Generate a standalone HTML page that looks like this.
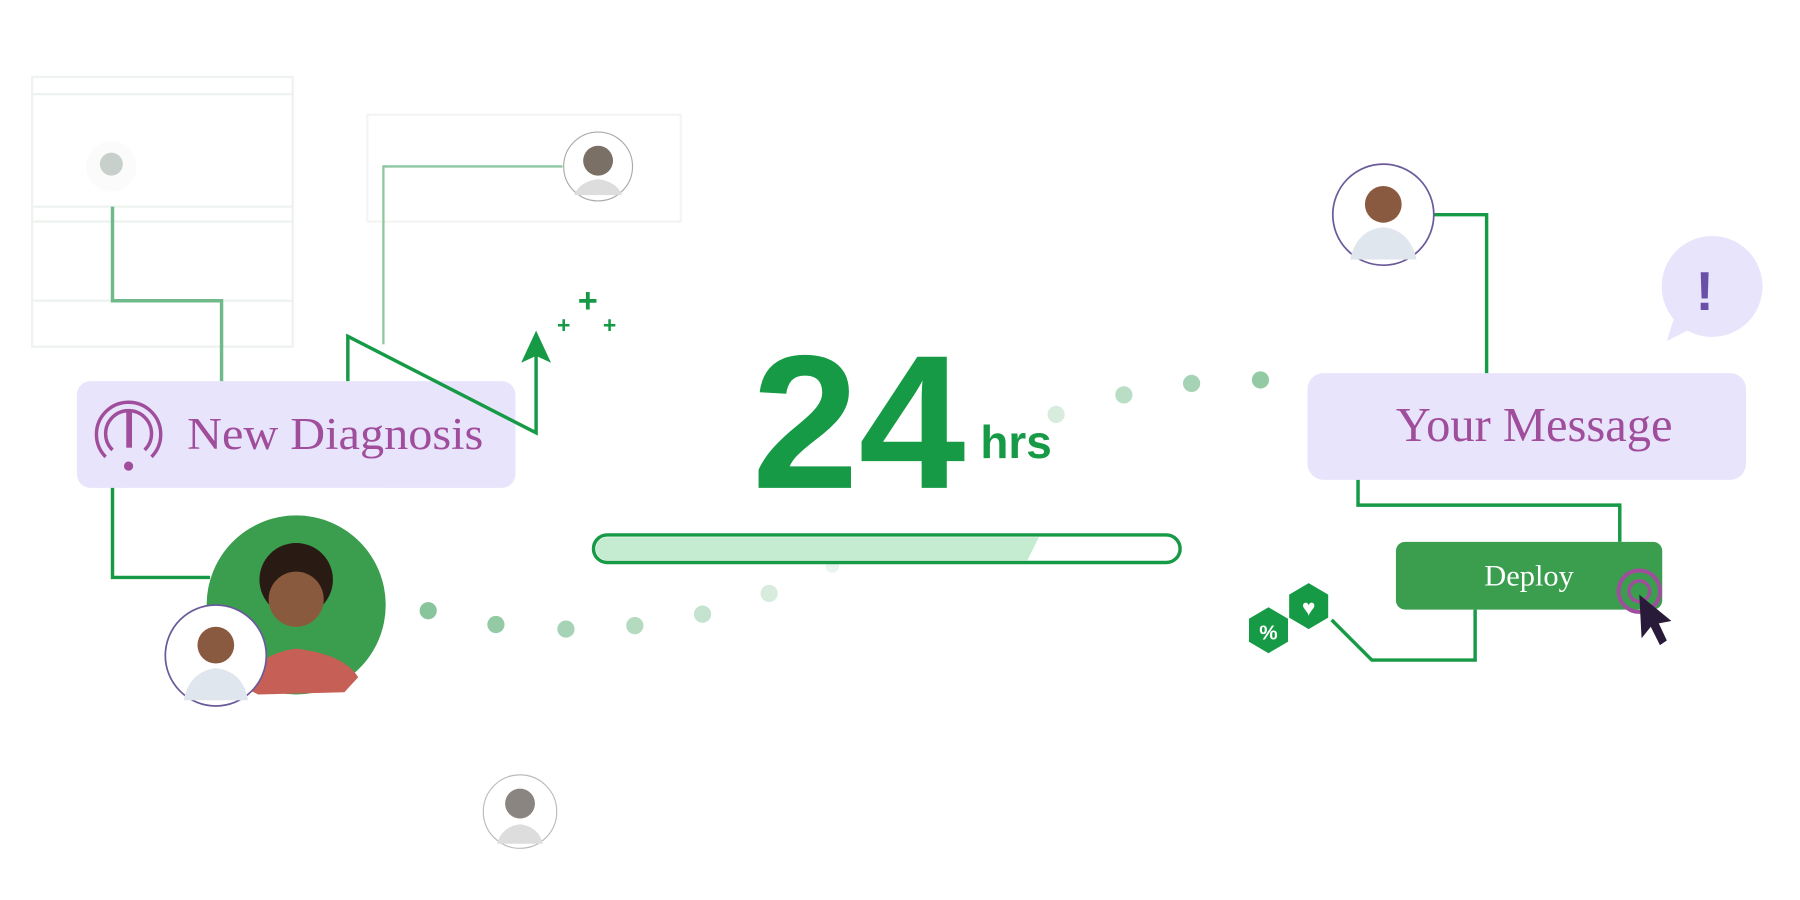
<!DOCTYPE html>
<html><head><meta charset="utf-8"><style>html,body{margin:0;padding:0;background:#fff}svg{display:block}</style></head>
<body>
<svg width="1800" height="900" viewBox="0 0 1568 784" xmlns="http://www.w3.org/2000/svg">
<!-- faint panels -->
<g fill="none" stroke="#eef3ef" stroke-width="2">
<rect x="28" y="67" width="227" height="235"/>
<line x1="28" y1="82" x2="255" y2="82"/><line x1="28" y1="180" x2="255" y2="180"/>
<line x1="28" y1="193" x2="255" y2="193"/><line x1="28" y1="262" x2="255" y2="262"/>
<rect x="320" y="100" width="273" height="93" stroke="#f3f5f3"/>
</g>
<!-- boxes first -->
<rect x="67" y="332" width="382" height="93" rx="12" fill="#e8e4fc"/>
<rect x="1139" y="325" width="382" height="93" rx="14" fill="#e8e4fc"/>
<!-- connectors -->
<g fill="none" stroke="#169a46" stroke-width="3">
<polyline points="98,425 98,503 183,503"/>
<polyline points="193,332 193,262 98,262 98,180" stroke="#6fb98a"/>
<polyline points="303,332 303,293 467,377 467,305"/>
<polyline points="334,300 334,145 490,145" stroke="#8cc79f" stroke-width="2"/>
<polyline points="1249,187 1295,187 1295,325"/>
<polyline points="1183,418 1183,440 1411,440 1411,472"/>
<polyline points="1285,531 1285,575 1195,575 1160,540"/>
</g>
<polygon points="467,288 454,316 467,310 480,316" fill="#169a46"/>
<g fill="#169a46" font-family="Liberation Sans, sans-serif" font-weight="bold">
<text x="512" y="272" font-size="30" text-anchor="middle">+</text>
<text x="491" y="290" font-size="20" text-anchor="middle">+</text>
<text x="531" y="290" font-size="20" text-anchor="middle">+</text>
</g>
<!-- New Diagnosis -->
<g fill="none" stroke="#a04e9b" stroke-width="3">
<path d="M98,392 A20,20 0 1 1 126,392"/>
<path d="M92,398 A28,28 0 1 1 132,398"/>
</g>
<rect x="110" y="358" width="5" height="32" fill="#a04e9b"/>
<circle cx="112" cy="406" r="4" fill="#a04e9b"/>
<text x="163" y="391" font-family="Liberation Serif, serif" font-size="40" fill="#a04e9b" textLength="258" lengthAdjust="spacingAndGlyphs">New Diagnosis</text>
<!-- woman & doctor -->
<circle cx="258" cy="527" r="78" fill="#3a9e4e"/>
<circle cx="258" cy="505" r="32" fill="#2a1a14"/>
<circle cx="258" cy="522" r="24" fill="#8a5a3e"/>
<path d="M215,600 Q220,570 258,565 Q300,570 312,590 L300,603 L225,605 Z" fill="#c65f55"/>
<circle cx="188" cy="571" r="44" fill="#fff" stroke="#6a5a9a" stroke-width="1.5"/>
<circle cx="188" cy="562" r="16" fill="#8a5a40"/>
<path d="M160,610 Q165,585 188,582 Q212,585 216,610 Z" fill="#dfe6ee"/>
<!-- other avatars -->
<circle cx="521" cy="145" r="30" fill="#fff" stroke="#aaa" stroke-width="1"/>
<circle cx="521" cy="140" r="13" fill="#7a7066"/>
<path d="M500,170 Q505,158 521,156 Q537,158 542,170 Z" fill="#ddd"/>
<circle cx="97" cy="145" r="22" fill="#fbfbfb"/>
<circle cx="97" cy="143" r="10" fill="#c8d0cc"/>
<circle cx="453" cy="707" r="32" fill="#fff" stroke="#bbb" stroke-width="1"/>
<circle cx="453" cy="700" r="13" fill="#8a8580"/>
<path d="M433,735 Q437,720 453,718 Q469,720 473,735 Z" fill="#ddd"/>
<circle cx="1205" cy="187" r="44" fill="#fff" stroke="#6a5a9a" stroke-width="1.5"/>
<circle cx="1205" cy="178" r="16" fill="#8a5a40"/>
<path d="M1176,226 Q1182,200 1205,198 Q1228,200 1234,226 Z" fill="#dfe6ee"/>
<!-- dots -->
<g fill="#3a9e5a">
<circle cx="373" cy="532" r="7.5" opacity=".6"/><circle cx="432" cy="544" r="7.5" opacity=".55"/>
<circle cx="493" cy="548" r="7.5" opacity=".45"/><circle cx="553" cy="545" r="7.5" opacity=".38"/>
<circle cx="612" cy="535" r="7.5" opacity=".3"/><circle cx="670" cy="517" r="7.5" opacity=".2"/>
<circle cx="725" cy="493" r="6" opacity=".1"/>
<circle cx="920" cy="361" r="7.5" opacity=".2"/><circle cx="979" cy="344" r="7.5" opacity=".35"/>
<circle cx="1038" cy="334" r="7.5" opacity=".45"/><circle cx="1098" cy="331" r="7.5" opacity=".55"/>
</g>
<!-- 24 hrs -->
<text x="655" y="425" font-family="Liberation Sans, sans-serif" font-weight="bold" font-size="166" fill="#169a46" textLength="186" lengthAdjust="spacingAndGlyphs">24</text>
<text x="854" y="399" font-family="Liberation Sans, sans-serif" font-weight="bold" font-size="40" fill="#169a46">hrs</text>
<rect x="517" y="466" width="511" height="24" rx="12" fill="#fff" stroke="#169a46" stroke-width="3"/>
<path d="M529,468 H905 L895,488 H529 A10,10 0 0 1 529,468 Z" fill="#c5ecd0"/>
<!-- right side -->
<path d="M1485,206 A44,44 0 1 1 1470,288 L1452,297 L1458,278 A44,44 0 0 1 1485,206 Z" fill="#e8e4fc"/>
<text x="1485" y="270" font-family="Liberation Sans, sans-serif" font-weight="bold" font-size="48" fill="#6a4fa8" text-anchor="middle">!</text>
<text x="1216" y="384" font-family="Liberation Serif, serif" font-size="42" fill="#a04e9b" textLength="241" lengthAdjust="spacingAndGlyphs">Your Message</text>
<rect x="1216" y="472" width="232" height="59" rx="8" fill="#3a9e4e"/>
<text x="1293" y="510" font-family="Liberation Serif, serif" font-size="26" fill="#fff" textLength="78" lengthAdjust="spacingAndGlyphs">Deploy</text>
<circle cx="1428" cy="515" r="18" fill="none" stroke="#a04e9b" stroke-width="3.5"/>
<circle cx="1428" cy="515" r="9" fill="none" stroke="#a04e9b" stroke-width="3"/>
<path d="M1428,518 L1430,556 L1438,546 L1446,562 L1452,558 L1445,543 L1456,541 Z" fill="#2a1a3a"/>
<polygon points="1140,508 1157,518 1157,538 1140,548 1123,538 1123,518" fill="#169a46"/>
<text x="1140" y="536" font-family="Liberation Sans, sans-serif" font-size="20" fill="#fff" text-anchor="middle">♥</text>
<polygon points="1105,529 1122,539 1122,559 1105,569 1088,559 1088,539" fill="#169a46"/>
<text x="1105" y="557" font-family="Liberation Sans, sans-serif" font-weight="bold" font-size="18" fill="#fff" text-anchor="middle">%</text>
</svg>
</body></html>
